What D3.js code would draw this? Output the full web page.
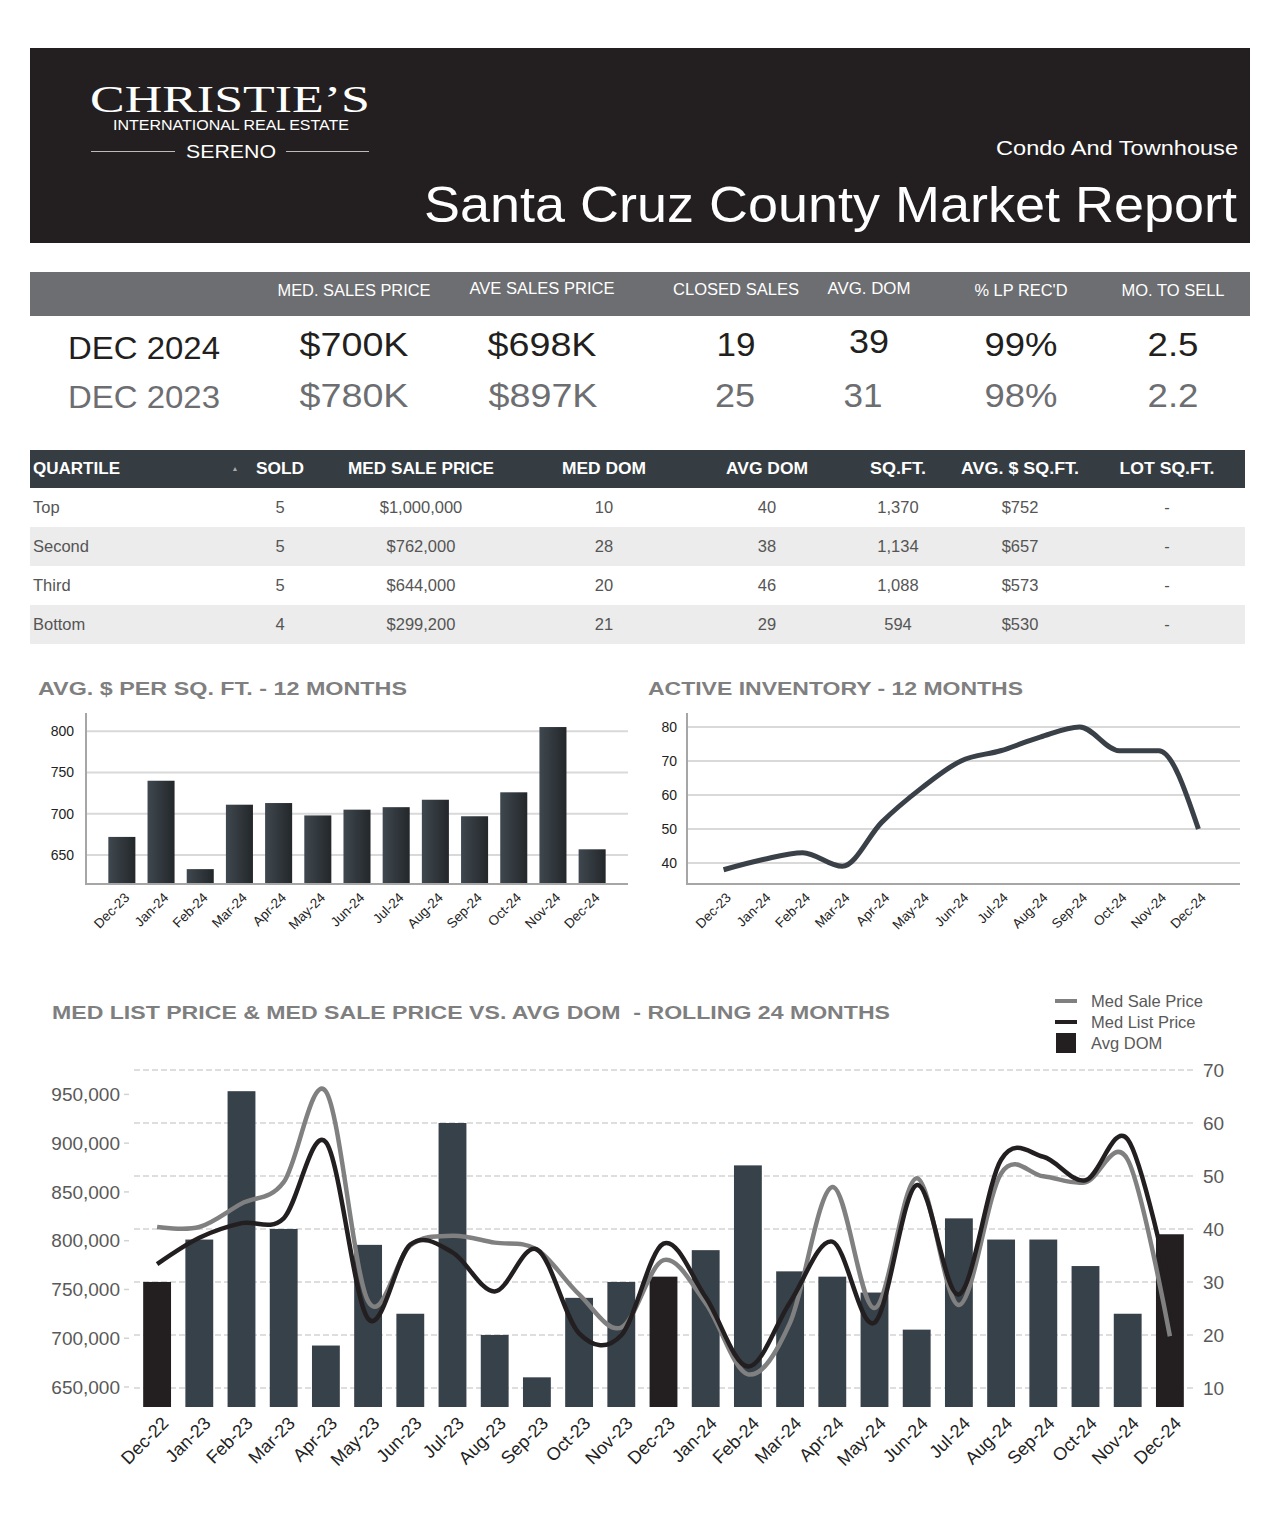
<!DOCTYPE html>
<html><head><meta charset="utf-8">
<script src="https://cdn.jsdelivr.net/npm/d3@7"></script>
<style>
html,body{margin:0;padding:0;background:#fff;}
svg{display:block;font-family:"Liberation Sans",Arial,sans-serif;}
</style></head>
<body>
<svg id="page" width="1280" height="1528"></svg>
<script>
// ---------------- DATA ----------------
const reportSubtitle = "Condo And Townhouse";
const reportTitle = "Santa Cruz County Market Report";
const statHeaders = ["MED. SALES PRICE","AVE SALES PRICE","CLOSED SALES","AVG. DOM","% LP REC'D","MO. TO SELL"];
const statRowLabels = ["DEC 2024","DEC 2023"];
const stats2024 = ["$700K","$698K","19","39","99%","2.5"];
const stats2023 = ["$780K","$897K","25","31","98%","2.2"];

const quartileHeaders = ["QUARTILE","SOLD","MED SALE PRICE","MED DOM","AVG DOM","SQ.FT.","AVG. $ SQ.FT.","LOT SQ.FT."];
const quartileNames = ["Top","Second","Third","Bottom"];
const qSold = ["5","5","5","4"];
const qMedPrice = ["$1,000,000","$762,000","$644,000","$299,200"];
const qMedDom = ["10","28","20","21"];
const qAvgDom = ["40","38","46","29"];
const qSqft = ["1,370","1,134","1,088","594"];
const qAvgPpsf = ["$752","$657","$573","$530"];
const qLot = ["-","-","-","-"];

const months12 = ["Dec-23","Jan-24","Feb-24","Mar-24","Apr-24","May-24","Jun-24","Jul-24","Aug-24","Sep-24","Oct-24","Nov-24","Dec-24"];
const ppsfValues = [672,740,633,711,713,698,705,708,717,697,726,805,657];
const ppsfTicks = [650,700,750,800];
const inventoryValues = [38,41,43,39,52,62,70,73,77,80,73,73,50];
const inventoryTicks = [40,50,60,70,80];

const months24 = ["Dec-22","Jan-23","Feb-23","Mar-23","Apr-23","May-23","Jun-23","Jul-23","Aug-23","Sep-23","Oct-23","Nov-23",
                  "Dec-23","Jan-24","Feb-24","Mar-24","Apr-24","May-24","Jun-24","Jul-24","Aug-24","Sep-24","Oct-24","Nov-24","Dec-24"];
const avgDomValues = [30,38,66,40,18,37,24,60,20,12,27,30,31,36,52,32,31,28,21,42,38,38,33,24,39];
const medSalePrice = [814000,814000,838000,860000,953000,738000,795000,805000,798000,791000,745000,711000,
                      780000,736000,663000,716000,855000,731000,864000,734000,869000,866000,860000,883000,702000];
const medListPrice = [776000,803000,818000,823000,901000,720000,796000,788000,748000,791000,705000,703000,
                      797000,742000,671000,737000,799000,716000,857000,745000,883000,886000,862000,904000,750000];
const priceTicks = [650000,700000,750000,800000,850000,900000,950000];
const domTicks = [10,20,30,40,50,60,70];
const legendLabels = ["Med Sale Price","Med List Price","Avg DOM"];

// ---------------- DRAW ----------------
const svg = d3.select("#page");
const DARK = "#231f20";

// Header
svg.append("rect").attr("x",30).attr("y",48).attr("width",1220).attr("height",195).attr("fill",DARK);
svg.append("text").attr("x",230).attr("y",112).attr("text-anchor","middle")
  .attr("font-family","'Liberation Serif','DejaVu Serif',serif").attr("font-size",38).attr("fill","#fff")
  .attr("textLength",280).attr("lengthAdjust","spacingAndGlyphs").text("CHRISTIE\u2019S");
svg.append("text").attr("x",231).attr("y",130).attr("text-anchor","middle")
  .attr("font-size",14.5).attr("fill","#fff")
  .attr("textLength",236).attr("lengthAdjust","spacingAndGlyphs").text("INTERNATIONAL REAL ESTATE");
svg.append("text").attr("x",231).attr("y",158).attr("text-anchor","middle")
  .attr("font-size",19).attr("fill","#fff")
  .attr("textLength",90).attr("lengthAdjust","spacingAndGlyphs").text("SERENO");
[[91,175],[286,369]].forEach(d=>{
  svg.append("line").attr("x1",d[0]).attr("x2",d[1]).attr("y1",151.5).attr("y2",151.5)
    .attr("stroke","#bbb").attr("stroke-width",1);
});
svg.append("text").attr("x",1238).attr("y",155).attr("text-anchor","end")
  .attr("font-size",20).attr("fill","#fff").attr("textLength",242).attr("lengthAdjust","spacingAndGlyphs").text(reportSubtitle);
svg.append("text").attr("x",1237).attr("y",222).attr("text-anchor","end")
  .attr("font-size",50).attr("fill","#fff").attr("textLength",813).attr("lengthAdjust","spacingAndGlyphs").text(reportTitle);

// Stats band
svg.append("rect").attr("x",30).attr("y",272).attr("width",1220).attr("height",44).attr("fill","#6d6e71");
const statX = [354,542,736,869,1021,1173];
const statHW = [153,145,126,83,93,103];
const statHY = [296,294,295,294,296,296];
statHeaders.forEach((h,i)=>{
  svg.append("text").attr("x",statX[i]).attr("y",statHY[i]).attr("text-anchor","middle")
    .attr("font-size",16).attr("fill","#fff").attr("textLength",statHW[i]).attr("lengthAdjust","spacingAndGlyphs").text(h);
});
const valW = [109,109,39,40,73,51];
const valW2 = [109,109,40,39,73,51];
svg.append("text").attr("x",68).attr("y",359).attr("font-size",31).attr("fill",DARK)
  .attr("textLength",152).attr("lengthAdjust","spacingAndGlyphs").text(statRowLabels[0]);
svg.append("text").attr("x",68).attr("y",408).attr("font-size",31).attr("fill","#6d6e71")
  .attr("textLength",152).attr("lengthAdjust","spacingAndGlyphs").text(statRowLabels[1]);
const row1Y = [356,356,356,353,356,356];
stats2024.forEach((v,i)=>{
  svg.append("text").attr("x",statX[i]).attr("y",row1Y[i]).attr("text-anchor","middle")
    .attr("font-size",34).attr("fill",DARK).attr("textLength",valW[i]).attr("lengthAdjust","spacingAndGlyphs").text(v);
});
const row2X = [354,543,735,863,1021,1173];
stats2023.forEach((v,i)=>{
  svg.append("text").attr("x",row2X[i]).attr("y",407).attr("text-anchor","middle")
    .attr("font-size",34).attr("fill","#6d6e71").attr("textLength",valW2[i]).attr("lengthAdjust","spacingAndGlyphs").text(v);
});

// Quartile table
svg.append("rect").attr("x",30).attr("y",450).attr("width",1215).attr("height",38).attr("fill","#353c42");
const qX = [33,280,421,604,767,898,1020,1167];
const qHW = [87,48,146,84,82,56,118,95];
quartileHeaders.forEach((h,i)=>{
  svg.append("text").attr("x",qX[i]).attr("y",474)
    .attr("text-anchor", i===0 ? "start":"middle")
    .attr("font-size",16).attr("font-weight","bold").attr("fill","#fff")
    .attr("textLength",qHW[i]).attr("lengthAdjust","spacingAndGlyphs").text(h);
});
svg.append("text").attr("x",235).attr("y",471).attr("text-anchor","middle").attr("font-size",7).attr("fill","#aaa").text("\u25B2");
const qCols = [quartileNames,qSold,qMedPrice,qMedDom,qAvgDom,qSqft,qAvgPpsf,qLot];
quartileNames.forEach((n,r)=>{
  const y0 = 488 + r*39;
  svg.append("rect").attr("x",30).attr("y",y0).attr("width",1215).attr("height",39)
    .attr("fill", r%2===1 ? "#ececec" : "#fff");
  qCols.forEach((col,i)=>{
    svg.append("text").attr("x",qX[i]).attr("y",y0+25)
      .attr("text-anchor", i===0 ? "start":"middle")
      .attr("font-size",16.5).attr("fill","#555").text(col[r]);
  });
});

// ---- Chart 1: AVG $ per sq ft ----
svg.append("text").attr("x",38).attr("y",695).attr("font-size",19).attr("font-weight","bold").attr("fill","#7f7f7f")
  .attr("textLength",369).attr("lengthAdjust","spacingAndGlyphs").text("AVG. $ PER SQ. FT. - 12 MONTHS");
const defs = svg.append("defs");
const grad = defs.append("linearGradient").attr("id","barGrad").attr("x1","0").attr("x2","1").attr("y1","0").attr("y2","0");
grad.append("stop").attr("offset","0%").attr("stop-color","#3f484f");
grad.append("stop").attr("offset","100%").attr("stop-color","#23272a");

const x1 = d3.scaleBand().domain(months12).range([86,628]).paddingInner(0.31).paddingOuter(0.57);
const y1 = d3.scaleLinear().domain([615,822]).range([884,713]);
const g1 = svg.append("g");
g1.selectAll(".grid").data(ppsfTicks).join("line")
  .attr("x1",86).attr("x2",628).attr("y1",d=>y1(d)).attr("y2",d=>y1(d)).attr("stroke","#d9d9d9").attr("stroke-width",2);
g1.selectAll(".bar").data(ppsfValues).join("rect")
  .attr("x",(d,i)=>x1(months12[i])).attr("width",x1.bandwidth())
  .attr("y",d=>y1(d)).attr("height",d=>y1.range()[0]-y1(d)).attr("fill","url(#barGrad)");
g1.append("line").attr("x1",86).attr("x2",86).attr("y1",713).attr("y2",885).attr("stroke","#a6a6a6").attr("stroke-width",2);
g1.append("line").attr("x1",85).attr("x2",628).attr("y1",884).attr("y2",884).attr("stroke","#a6a6a6").attr("stroke-width",2);
g1.selectAll(".yl").data(ppsfTicks).join("text")
  .attr("x",74).attr("y",d=>y1(d)).attr("dy","0.35em").attr("text-anchor","end").attr("font-size",14).attr("fill","#222").text(d=>d);
g1.selectAll(".xl").data(months12).join("text")
  .attr("transform",d=>`translate(${x1(d)+x1.bandwidth()/2+5},895) rotate(-45)`)
  .attr("text-anchor","end").attr("dy","0.35em").attr("font-size",13.5).attr("fill","#222").text(d=>d);

// ---- Chart 2: Active inventory ----
svg.append("text").attr("x",648).attr("y",695).attr("font-size",19).attr("font-weight","bold").attr("fill","#7f7f7f")
  .attr("textLength",375).attr("lengthAdjust","spacingAndGlyphs").text("ACTIVE INVENTORY - 12 MONTHS");
const x2 = d3.scalePoint().domain(months12).range([686,1236]).padding(0.95);
const y2 = d3.scaleLinear().domain([33.8,84.1]).range([884,713]);
const g2 = svg.append("g");
g2.selectAll(".grid").data(inventoryTicks).join("line")
  .attr("x1",687).attr("x2",1240).attr("y1",d=>y2(d)).attr("y2",d=>y2(d)).attr("stroke","#d9d9d9").attr("stroke-width",2);
g2.append("line").attr("x1",687).attr("x2",687).attr("y1",713).attr("y2",885).attr("stroke","#a6a6a6").attr("stroke-width",2);
g2.append("line").attr("x1",686).attr("x2",1240).attr("y1",884).attr("y2",884).attr("stroke","#a6a6a6").attr("stroke-width",2);
g2.append("path").datum(inventoryValues)
  .attr("d",d3.line().x((d,i)=>x2(months12[i])).y(d=>y2(d)).curve(d3.curveMonotoneX))
  .attr("fill","none").attr("stroke","#394047").attr("stroke-width",5).attr("stroke-linejoin","round");
g2.selectAll(".yl").data(inventoryTicks).join("text")
  .attr("x",677).attr("y",d=>y2(d)).attr("dy","0.35em").attr("text-anchor","end").attr("font-size",14).attr("fill","#222").text(d=>d);
g2.selectAll(".xl").data(months12).join("text")
  .attr("transform",d=>`translate(${x2(d)+5},895) rotate(-45)`)
  .attr("text-anchor","end").attr("dy","0.35em").attr("font-size",13.5).attr("fill","#222").text(d=>d);

// ---- Chart 3: rolling 24 months ----
svg.append("text").attr("x",52).attr("y",1019).attr("font-size",19).attr("font-weight","bold").attr("fill","#7f7f7f")
  .attr("textLength",838).attr("lengthAdjust","spacingAndGlyphs").attr("xml:space","preserve")
  .text("MED LIST PRICE & MED SALE PRICE VS. AVG DOM  - ROLLING 24 MONTHS");
const x3 = d3.scaleBand().domain(months24).range([136,1191]).paddingInner(0.34).paddingOuter(0.17);
const yL = d3.scaleLinear().domain([629500,975000]).range([1407,1070]);
const yR = d3.scaleLinear().domain([6.4,70]).range([1407,1070]);
const g3 = svg.append("g");
g3.selectAll(".grid").data(domTicks).join("line")
  .attr("x1",134).attr("x2",1194).attr("y1",d=>yR(d)).attr("y2",d=>yR(d))
  .attr("stroke","#d3d3d3").attr("stroke-width",1.5).attr("stroke-dasharray","6,3");
const darkMonths = ["Dec-22","Dec-23","Dec-24"];
g3.selectAll(".bar").data(avgDomValues).join("rect")
  .attr("x",(d,i)=>x3(months24[i])).attr("width",x3.bandwidth())
  .attr("y",d=>yR(d)).attr("height",d=>yR.range()[0]-yR(d))
  .attr("fill",(d,i)=>darkMonths.includes(months24[i]) ? DARK : "#37414a");
const cx = (i)=>x3(months24[i])+x3.bandwidth()/2;
g3.append("path").datum(medSalePrice)
  .attr("d",d3.line().x((d,i)=>cx(i)).y(d=>yL(d)).curve(d3.curveCardinal))
  .attr("fill","none").attr("stroke","#808080").attr("stroke-width",4.5);
g3.append("path").datum(medListPrice)
  .attr("d",d3.line().x((d,i)=>cx(i)).y(d=>yL(d)).curve(d3.curveCardinal))
  .attr("fill","none").attr("stroke",DARK).attr("stroke-width",4.5);
const fmt = d3.format(",");
g3.selectAll(".yl").data(priceTicks).join("text")
  .attr("x",120).attr("y",d=>yL(d)).attr("dy","0.35em").attr("text-anchor","end").attr("font-size",19).attr("fill","#595959").text(d=>fmt(d));
g3.selectAll(".ylt").data(priceTicks).join("line")
  .attr("x1",124).attr("x2",129).attr("y1",d=>yL(d)).attr("y2",d=>yL(d)).attr("stroke","#d3d3d3").attr("stroke-width",1.5);
g3.selectAll(".yr").data(domTicks).join("text")
  .attr("x",1203).attr("y",d=>yR(d)).attr("dy","0.35em").attr("text-anchor","start").attr("font-size",19).attr("fill","#595959").text(d=>d);
g3.selectAll(".xl").data(months24).join("text")
  .attr("transform",d=>`translate(${x3(d)+x3.bandwidth()/2+8},1420) rotate(-45)`)
  .attr("text-anchor","end").attr("dy","0.35em").attr("font-size",18).attr("fill","#222").text(d=>d);

// legend
const lg = svg.append("g");
lg.append("line").attr("x1",1055).attr("x2",1077).attr("y1",1001).attr("y2",1001).attr("stroke","#808080").attr("stroke-width",4);
lg.append("line").attr("x1",1055).attr("x2",1077).attr("y1",1022).attr("y2",1022).attr("stroke",DARK).attr("stroke-width",4);
lg.append("rect").attr("x",1056).attr("y",1033).attr("width",20).attr("height",20).attr("fill",DARK);
legendLabels.forEach((t,i)=>{
  lg.append("text").attr("x",1091).attr("y",1001+i*21).attr("dy","0.35em").attr("font-size",16.5).attr("fill","#595959").text(t);
});
</script>
</body></html>
